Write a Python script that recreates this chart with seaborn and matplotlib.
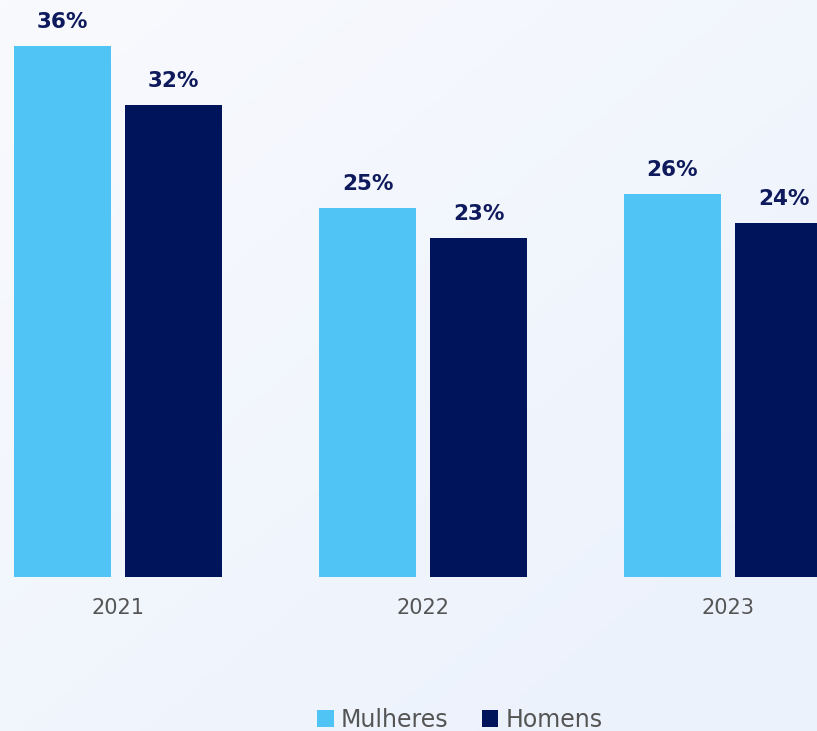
import matplotlib
matplotlib.use("Agg")
import matplotlib.pyplot as plt
from matplotlib.patches import Patch
import seaborn as sns
import pandas as pd
import numpy as np

# data
anos = ["2021", "2022", "2023"]
mulheres = [36, 25, 26]
homens = [32, 23, 24]
series = ["Mulheres", "Homens"]
cores = ["#50C4F5", "#00145C"]

df = pd.DataFrame({
    "Ano": anos * 2,
    "Valor": mulheres + homens,
    "Genero": [series[0]] * len(anos) + [series[1]] * len(anos),
})

sns.set_theme(style="white")
plt.rcParams["font.family"] = ["DejaVu Sans"]

W, H = 817, 731
fig = plt.figure(figsize=(W / 100, H / 100), dpi=100)

# soft gradient background
bg = fig.add_axes([0, 0, 1, 1], zorder=-10)
yy, xx = np.mgrid[0:1:200j, 0:1:200j]
t = np.clip(0.55 * xx + 0.6 * yy, 0, 1)[..., None]
c0 = np.array([249, 250, 254]) / 255
c1 = np.array([236, 242, 252]) / 255
bg.imshow(c0 * (1 - t) + c1 * t, aspect="auto", extent=[0, 1, 0, 1], origin="upper")
bg.axis("off")

base = 577
ax = fig.add_axes([0, (H - base) / H, 1, base / H])
ax.patch.set_alpha(0)

sns.barplot(data=df, x="Ano", y="Valor", hue="Genero", palette=cores,
            width=0.728, gap=0.126, saturation=1, legend=False, ax=ax,
            linewidth=0, edgecolor="none")

ax.set_xlim(-118 / 305, (W - 118) / 305)
ax.set_ylim(0, base / 14.75)

for cont in ax.containers:
    ax.bar_label(cont, labels=[f"{v:.0f}%" for v in cont.datavalues],
                 padding=10, fontsize=15.5, fontweight="bold", color="#0E1A5C")

ax.set_xlabel("")
ax.set_ylabel("")
ax.set_yticks([])
ax.tick_params(axis="x", length=0, pad=15, labelsize=15, labelcolor="#555555")
for s in ax.spines.values():
    s.set_visible(False)

handles = [Patch(facecolor=c, edgecolor="none", label=l) for l, c in zip(series, cores)]
leg = fig.legend(handles=handles, loc="lower center", bbox_to_anchor=(0.563, -0.03),
                 ncol=2, frameon=False, fontsize=17, handlelength=0.7, handleheight=0.7,
                 handletextpad=0.3, columnspacing=1.4, labelcolor="#555555")

fig.savefig("out.png", dpi=100)
